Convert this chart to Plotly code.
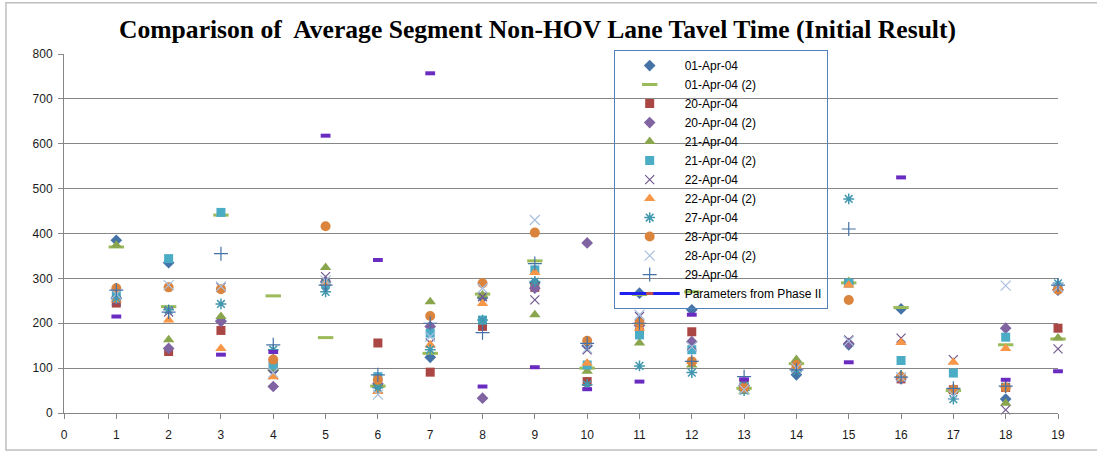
import plotly.graph_objects as go

# segment numbers on the x axis
segments = list(range(1, 20))

# average travel time per segment, one list per run
apr01 = [385, 335, 205, 95, 285, 60, 124, 257, 290, 150, 267, 230, 60, 85, 152, 232, 50, 31, 274]
apr01_2 = [370, 237, 441, 261, 168, 60, 133, 265, 339, 100, 264, 270, 55, 110, 290, 235, 50, 152, 165]
apr20 = [245, 137, 184, 110, 290, 156, 91, 193, 280, 70, 180, 181, 67, 100, 290, 76, 52, 57, 189]
apr20_2 = [255, 144, 204, 59, 292, 65, 193, 33, 278, 379, 195, 159, 62, 98, 155, 76, 52, 189, 275]
apr21 = [374, 163, 215, 100, 324, 63, 248, 263, 219, 93, 156, 107, 48, 119, 293, 85, 50, 22, 167]
apr21_2 = [262, 344, 447, 107, 289, 81, 178, 207, 319, 107, 174, 141, 59, 105, 290, 117, 89, 169, 280]
apr22 = [250, 225, 280, 85, 304, 55, 156, 259, 252, 141, 215, 150, 65, 100, 163, 167, 119, 7, 143]
apr22_2 = [252, 207, 144, 81, 289, 48, 152, 244, 313, 111, 189, 115, 55, 105, 285, 157, 113, 144, 280]
apr27 = [256, 230, 243, 141, 270, 56, 141, 207, 293, 63, 105, 90, 50, 93, 477, 80, 31, 59, 289]
apr28 = [278, 280, 276, 119, 416, 74, 216, 289, 402, 161, 201, 115, 56, 107, 252, 80, 52, 57, 275]
apr28_2 = [265, 285, 282, 90, 295, 41, 170, 278, 430, 144, 219, 148, 52, 100, 160, 80, 40, 284, 280]
apr29 = [274, 225, 355, 152, 285, 85, 200, 179, 333, 155, 200, 115, 81, 96, 410, 80, 55, 60, 285]
phase2 = [215, None, 130, 136, 618, 341, 757, 59, 102, 53, 70, 219, 75, None, 113, 525, None, 74, 93]

# (name, values, symbol, colour, size, line width)
series = [
    ("01-Apr-04", apr01, "diamond", "#4572A7", 9, 0),
    ("01-Apr-04 (2)", apr01_2, "line-ew-open", "#9BBB59", 11, 3),
    ("20-Apr-04", apr20, "square", "#AA4643", 9, 0),
    ("20-Apr-04 (2)", apr20_2, "diamond", "#8064A2", 9, 0),
    ("21-Apr-04", apr21, "triangle-up", "#89A54E", 10, 0),
    ("21-Apr-04 (2)", apr21_2, "square", "#4BACC6", 9, 0),
    ("22-Apr-04", apr22, "x-thin-open", "#71588F", 9, 1.2),
    ("22-Apr-04 (2)", apr22_2, "triangle-up", "#F79646", 10, 0),
    ("27-Apr-04", apr27, "asterisk-open", "#4198AF", 9, 1.5),
    ("28-Apr-04", apr28, "circle", "#DB843D", 10, 0),
    ("28-Apr-04 (2)", apr28_2, "x-thin-open", "#A8BFDE", 10, 1.2),
    ("29-Apr-04", apr29, "cross-thin-open", "#4572A7", 10, 1.2),
]

fig = go.Figure()

for name, vals, sym, col, size, lw in series:
    mk = dict(symbol=sym, color=col, size=size)
    if lw:
        mk["line"] = dict(color=col, width=lw)
    else:
        mk["line"] = dict(width=0)
    fig.add_trace(go.Scatter(x=segments, y=vals, mode="markers", name=name,
                             marker=mk, cliponaxis=False))

# phase II parameters: dash markers, legend shows a blue line
fig.add_trace(go.Scatter(
    x=segments, y=phase2, mode="markers", name="Parameters from Phase II",
    marker=dict(symbol="line-ew-open", color="#6A2BC0", size=7,
                line=dict(color="#6A2BC0", width=4)),
    cliponaxis=False, showlegend=False
))
fig.add_trace(go.Scatter(
    x=[None], y=[None], mode="lines+markers", name="Parameters from Phase II",
    line=dict(color="#1F1FF0", width=3),
    marker=dict(symbol="line-ew-open", color="#C0504D", size=5,
                line=dict(color="#C0504D", width=3))
))

# light grey frame around the whole chart
fig.add_shape(type="rect", xref="paper", yref="paper",
              x0=-0.0584, x1=1.045, y0=-0.103, y1=1.143,
              line=dict(color="#BFBFBF", width=1.5), layer="below")

fig.update_layout(
    width=1097, height=451,
    paper_bgcolor="white", plot_bgcolor="white",
    margin=dict(l=64, r=39, t=54, b=38),
    font=dict(family="Liberation Sans, Arial, sans-serif", size=12, color="#1A1A1A"),
    title=dict(
        text="<b>Comparison of  Average Segment Non-HOV Lane Tavel Time (Initial Result)</b>",
        font=dict(family="Liberation Serif, Times New Roman, serif", size=25.6, color="black"),
        x=0.49, xanchor="center", y=0.935, yanchor="middle"
    ),
    legend=dict(
        x=0.553, xanchor="left", y=1.011, yanchor="top",
        bgcolor="rgba(0,0,0,0)", bordercolor="#4F81BD", borderwidth=1,
        itemwidth=60, font=dict(size=12, color="black"),
        tracegroupgap=0, maxheight=320
    ),
    showlegend=True,
)

fig.update_xaxes(
    range=[0, 19], tickmode="linear", tick0=0, dtick=1,
    showgrid=False, showline=True, linecolor="#868686", linewidth=1,
    ticks="outside", ticklen=5, tickcolor="#868686", zeroline=False,
    ticklabelstandoff=6, automargin=False
)
fig.update_yaxes(
    range=[0, 800], tickmode="linear", tick0=0, dtick=100,
    showgrid=True, gridcolor="#868686", gridwidth=1,
    showline=True, linecolor="#868686", linewidth=1,
    ticks="outside", ticklen=5, tickcolor="#868686", zeroline=False,
    ticklabelstandoff=3, automargin=False
)

# drop the default page margin so the chart sits at the top-left corner
fig.write_html("out.html", config={"displayModeBar": False},
               post_script="document.body.style.margin='0';")
